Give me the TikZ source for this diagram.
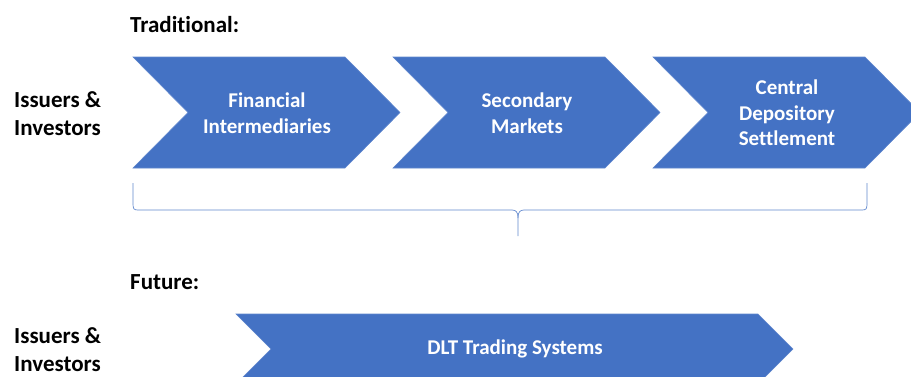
\documentclass[tikz,border=0pt]{standalone}
\usepackage{fontspec}
\setmainfont[Ligatures={NoCommon}]{Carlito}
\definecolor{chevblue}{HTML}{4472C4}
\begin{document}
\begin{tikzpicture}[x=1pt,y=-1pt,
  chev/.style={fill=chevblue,draw=chevblue!85!white,line width=0.6pt},
  chevtext/.style={text=white,font=\fontsize{21}{25.5}\selectfont\bfseries,align=center,inner sep=0pt},
  label/.style={text=black,font=\fontsize{23}{28}\selectfont\bfseries,align=left,inner sep=0pt},
  bracestyle/.style={draw=chevblue!85!white,line width=0.7pt}]
\useasboundingbox (0,0) rectangle (911,376);
\clip (0,0) rectangle (911,376);
% top chevrons
\fill[chev] (133,57) -- (345,57) -- (400,112.5) -- (345,168) -- (133,168) -- (188,112.5) -- cycle;
\fill[chev] (393,57) -- (605,57) -- (660,112.5) -- (605,168) -- (393,168) -- (448,112.5) -- cycle;
\fill[chev] (653,57) -- (865,57) -- (920,112.5) -- (865,168) -- (653,168) -- (708,112.5) -- cycle;
% bottom chevron
\fill[chev] (236,314) -- (758,314) -- (793,349) -- (758,384) -- (236,384) -- (271,349) -- cycle;
% texts
\node[label,anchor=west] (trad) at (130,25) {Traditional:};
\node[label,anchor=west] (fut) at (130,282) {Future:};
\node[label,anchor=west] (ii1) at (14,114) {Issuers \&\\Investors};
\node[label,anchor=west] (ii2) at (14,350) {Issuers \&\\Investors};
\node[chevtext] (fi) at (267,113) {Financial\\Intermediaries};
\node[chevtext] (sm) at (527,113) {Secondary\\Markets};
\node[chevtext] (cd) at (787,113) {Central\\Depository\\Settlement};
\node[chevtext] (dlt) at (515,349) {DLT Trading Systems};
% brace
\coordinate (bl) at (133,183);
\coordinate (br) at (867,183);
\coordinate (bt) at (518,236);
\draw[bracestyle] (bl) -- (133,204) .. controls (133,209) and (134,210) .. (138,210) -- (512,210) .. controls (516,210) and (518,212) .. (518,218) -- (bt);
\draw[bracestyle] (br) -- (867,204) .. controls (867,209) and (866,210) .. (862,210) -- (524,210) .. controls (520,210) and (518,212) .. (518,218);
\end{tikzpicture}
\end{document}
